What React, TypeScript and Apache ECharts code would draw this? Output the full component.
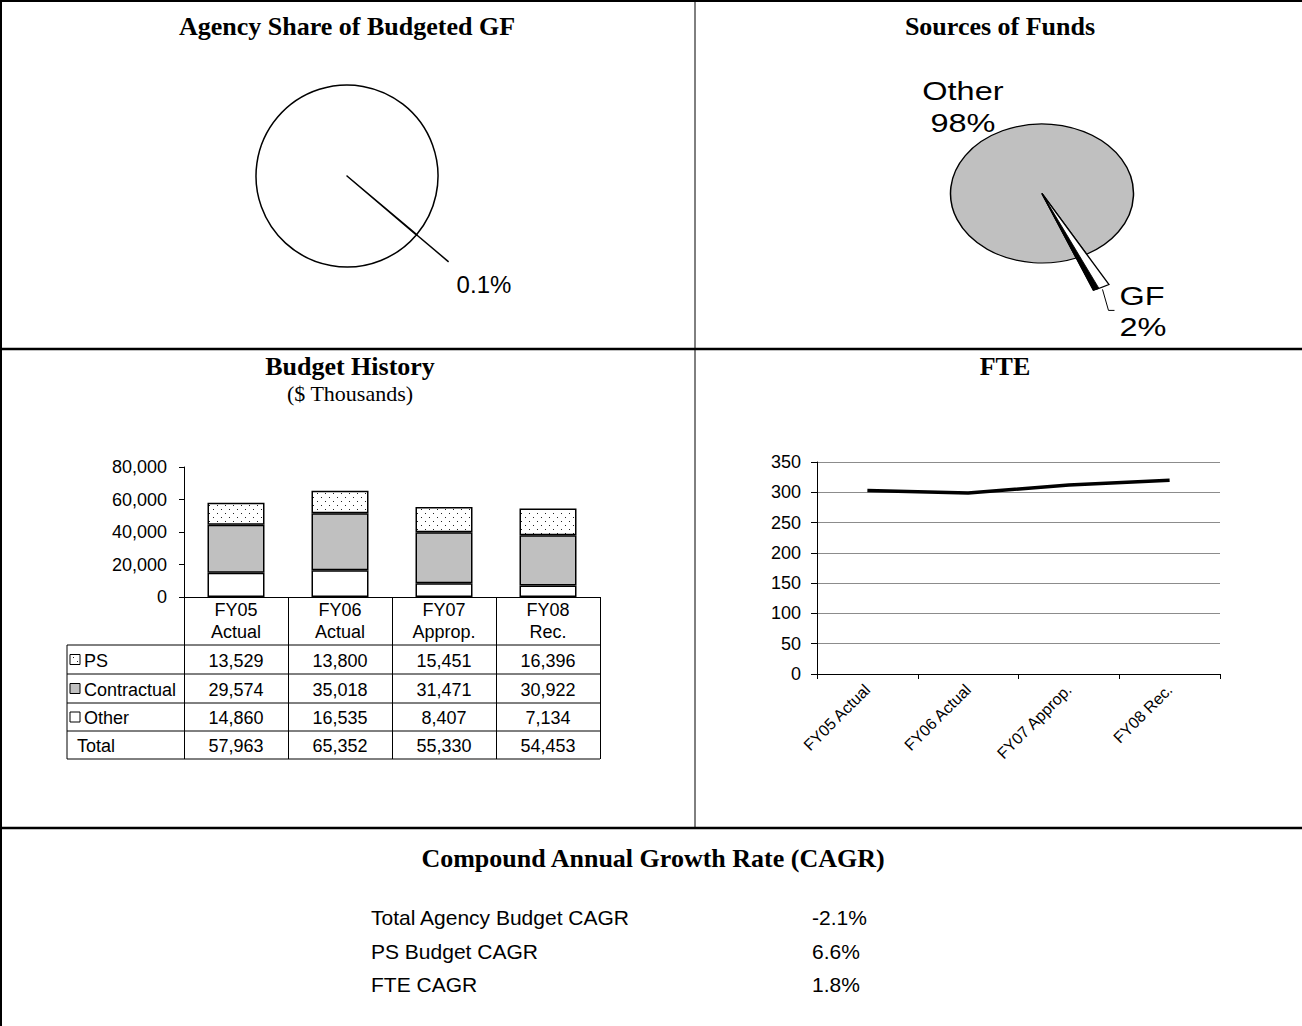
import React, { useEffect, useRef } from "react";
import * as echarts from "echarts";

const SERIF = '"Liberation Serif", "Times New Roman", serif';
const SANS = '"Liberation Sans", Arial, sans-serif';

// ---- data ----
const agencyShareNames = ["Agency", "Rest of GF"];
const agencyShareValues = [0.1, 99.9];

const sourcesNames = ["Other", "GF"];
const sourcesValues = [98, 2];

const budgetCategories = ["FY05\nActual", "FY06\nActual", "FY07\nApprop.", "FY08\nRec."];
const budgetRowNames = ["PS", "Contractual", "Other", "Total"];
const psValues = [13529, 13800, 15451, 16396];
const contractualValues = [29574, 35018, 31471, 30922];
const otherValues = [14860, 16535, 8407, 7134];
const totalValues = [57963, 65352, 55330, 54453];
const budgetAxisMax = 80000;
const budgetAxisStep = 20000;

const fteCategories = ["FY05 Actual", "FY06 Actual", "FY07 Approp.", "FY08 Rec."];
const fteValues = [303, 299, 312, 320];
const fteAxisMax = 350;
const fteAxisStep = 50;

const cagrLabels = ["Total Agency Budget CAGR", "PS Budget CAGR", "FTE CAGR"];
const cagrValues = ["-2.1%", "6.6%", "1.8%"];

const fmt = (v: number) => v.toLocaleString("en-US");

function makeDots(): string {
  const c = document.createElement("canvas");
  c.width = 8;
  c.height = 8;
  const ctx = c.getContext("2d")!;
  ctx.fillStyle = "#fff";
  ctx.fillRect(0, 0, 8, 8);
  ctx.fillStyle = "#222";
  ctx.fillRect(1, 1, 1, 1);
  ctx.fillRect(5, 5, 1, 1);
  return c.toDataURL();
}

export default function App() {
  const ref = useRef<HTMLDivElement>(null);

  useEffect(() => {
    const el = ref.current!;
    const chart = echarts.init(el, null, { renderer: "svg" });
    const dotsUrl = makeDots();
    const psFill: any = { image: dotsUrl, repeat: "repeat", imageWidth: 8, imageHeight: 8 };

    // layout constants
    const bg = { left: 184, top: 467, width: 416, height: 130 };
    const fg = { left: 817, top: 462, width: 403, height: 212 };
    const tableLeft = 67;
    const tableBottom = 759;
    const rowLines = [645, 674, 703, 731, 759];
    const rowSeries = [psValues, contractualValues, otherValues, totalValues];

    // pie 2 geometry
    const p2 = { cx: 1042, cy: 193.5, rx: 91.5, ry: 69.5 };
    const p2Start = (68 * Math.PI) / 180;
    const p2Total = sourcesValues.reduce((a, b) => a + b, 0);

    const lineStyleBlack = { color: "#000", width: 1 };

    const graphic: any[] = [];
    const gLine = (x1: number, y1: number, x2: number, y2: number, w = 1, color = "#000") =>
      graphic.push({ type: "line", silent: true, shape: { x1, y1, x2, y2 }, style: { stroke: color, lineWidth: w } });
    const gText = (text: string, x: number, y: number, font: string, align = "center") =>
      graphic.push({
        type: "text",
        silent: true,
        x,
        y,
        style: { text, font, fill: "#000", textAlign: align, textVerticalAlign: "middle" },
      });

    // frame
    gLine(0, 1, 1302, 1, 2);
    gLine(1, 0, 1, 1026, 2);
    gLine(695, 0, 695, 828, 1);
    gLine(0, 349, 1302, 349, 2.5);
    gLine(0, 828, 1302, 828, 2.5);

    // titles
    const titleFont = `bold 26px ${SERIF}`;
    gText("Agency Share of Budgeted GF", 347, 26, titleFont);
    gText("Sources of Funds", 1000, 26, titleFont);
    gText("Budget History", 350, 366, titleFont);
    gText("($ Thousands)", 350, 393, `22px ${SERIF}`);
    gText("FTE", 1005, 366, titleFont);
    gText("Compound Annual Growth Rate (CAGR)", 653, 858, titleFont);

    // table lines
    rowLines.forEach((y) => gLine(tableLeft, y, bg.left + bg.width, y, 1));
    gLine(tableLeft, rowLines[0], tableLeft, tableBottom, 1);

    // table row labels + legend icons
    const iconFills: any[] = [psFill, "#c0c0c0", "#fff", null];
    budgetRowNames.forEach((name, i) => {
      const cy = (rowLines[i] + rowLines[i + 1]) / 2;
      if (iconFills[i]) {
        graphic.push({
          type: "rect",
          silent: true,
          shape: { x: 70, y: cy - 5, width: 10, height: 10 },
          style: { fill: iconFills[i], stroke: "#000", lineWidth: 1 },
        });
        gText(name, 84, cy + 1, `18px ${SANS}`, "left");
      } else {
        gText(name, 77, cy + 1, `18px ${SANS}`, "left");
      }
    });

    // CAGR rows
    const cagrY = [917, 951, 984];
    cagrLabels.forEach((t, i) => {
      gText(t, 371, cagrY[i], `21px ${SANS}`, "left");
      gText(cagrValues[i], 812, cagrY[i], `21px ${SANS}`, "left");
    });

    const rowAxes = rowSeries.map((vals, i) => ({
      type: "category",
      gridIndex: 0,
      position: "bottom",
      offset: (rowLines[i] + rowLines[i + 1]) / 2 + 1 - (bg.top + bg.height),
      data: vals.map(fmt),
      axisLine: { show: false },
      axisTick: { show: false },
      splitLine: { show: false },
      axisLabel: {
        interval: 0,
        margin: 0,
        verticalAlign: "middle",
        fontFamily: SANS,
        fontSize: 18,
        color: "#000",
      },
    }));

    const option: any = {
      animation: false,
      backgroundColor: "#fff",
      grid: [
        { ...bg, containLabel: false },
        { ...fg, containLabel: false },
      ],
      xAxis: [
        {
          type: "category",
          gridIndex: 0,
          data: budgetCategories,
          axisLine: { lineStyle: lineStyleBlack },
          axisTick: { show: true, length: tableBottom - (bg.top + bg.height), interval: 0, lineStyle: lineStyleBlack },
          axisLabel: {
            interval: 0,
            margin: 2,
            fontFamily: SANS,
            fontSize: 18,
            lineHeight: 22,
            color: "#000",
          },
        },
        ...rowAxes,
        {
          type: "category",
          gridIndex: 1,
          data: fteCategories,
          axisLine: { lineStyle: lineStyleBlack },
          axisTick: { show: true, length: 5, interval: 0, lineStyle: lineStyleBlack },
          axisLabel: {
            interval: 0,
            rotate: 45,
            margin: 13,
            fontFamily: SANS,
            fontSize: 16,
            color: "#000",
          },
        },
      ],
      yAxis: [
        {
          type: "value",
          gridIndex: 0,
          min: 0,
          max: budgetAxisMax,
          interval: budgetAxisStep,
          axisLine: { show: true, lineStyle: lineStyleBlack },
          axisTick: { show: true, length: 5, lineStyle: lineStyleBlack },
          splitLine: { show: false },
          axisLabel: { margin: 17, fontFamily: SANS, fontSize: 18, color: "#000", formatter: (v: number) => fmt(v) },
        },
        {
          type: "value",
          gridIndex: 1,
          min: 0,
          max: fteAxisMax,
          interval: fteAxisStep,
          axisLine: { show: true, lineStyle: lineStyleBlack },
          axisTick: { show: true, length: 6, lineStyle: lineStyleBlack },
          splitLine: { show: true, lineStyle: { color: "#8c8c8c", width: 1 } },
          axisLabel: { margin: 16, fontFamily: SANS, fontSize: 18, color: "#000" },
        },
      ],
      series: [
        {
          type: "pie",
          center: [347, 176],
          radius: 91,
          startAngle: -40,
          clockwise: true,
          silent: true,
          avoidLabelOverlap: false,
          itemStyle: { color: "#fff", borderColor: "#000", borderWidth: 1.5 },
          label: { show: false },
          labelLine: { show: false },
          data: agencyShareValues.map((v, i) => ({
            value: v,
            name: agencyShareNames[i],
            label:
              i === 0
                ? {
                    show: true,
                    position: "outside",
                    formatter: "\n{c}%",
                    fontFamily: SANS,
                    fontSize: 24,
                    lineHeight: 46,
                    color: "#000",
                    distanceToLabelLine: 8,
                  }
                : { show: false },
            labelLine:
              i === 0
                ? { show: true, length: 42, length2: 0, lineStyle: { color: "#000", width: 1.5 } }
                : { show: false },
          })),
        },
        {
          type: "custom",
          coordinateSystem: "none",
          silent: true,
          data: sourcesValues.map((v, i) => ({ name: sourcesNames[i], value: v })),
          renderItem: (params: any, api: any) => {
            const i = params.dataIndex;
            const name = sourcesNames[i];
            const v = api.value(0);
            const before = sourcesValues.slice(0, i).reduce((a, b) => a + b, 0);
            const a0 = p2Start + (before / p2Total) * Math.PI * 2;
            const a1 = a0 + (v / p2Total) * Math.PI * 2;
            const mid = (a0 + a1) / 2;
            const small = v / p2Total < 0.05;
            const rScale = small ? 1.5 : 1;
            const children: any[] = [];
            const pieces: any[] = [
              {
                type: "sector",
                shape: { cx: 0, cy: 0, r0: 0, r: p2.rx * rScale, startAngle: a0, endAngle: a1, clockwise: true },
                style: { fill: small ? "#fff" : "#c0c0c0", stroke: "#000", lineWidth: 1.5, strokeNoScale: true },
              },
            ];
            if (small) {
              pieces.push({
                type: "sector",
                shape: {
                  cx: 0,
                  cy: 0,
                  r0: 0,
                  r: p2.rx * rScale,
                  startAngle: a1 - (a1 - a0) * 0.35,
                  endAngle: a1,
                  clockwise: true,
                },
                style: { fill: "#000", stroke: "#000", lineWidth: 1, strokeNoScale: true },
              });
            }
            children.push({
              type: "group",
              x: p2.cx,
              y: p2.cy,
              scaleY: p2.ry / p2.rx,
              children: pieces,
            });
            const labelText = `${name}\n${v}%`;
            const labelFont = `26px ${SANS}`;
            if (small) {
              const k = rScale + 0.03;
              const x0 = p2.cx + Math.cos(mid) * p2.rx * k;
              const y0 = p2.cy + Math.sin(mid) * p2.ry * k;
              const pts = [
                [x0, y0],
                [x0 + 6, y0 + 21],
                [x0 + 12, y0 + 21],
              ];
              children.push({
                type: "polyline",
                shape: { points: pts },
                style: { stroke: "#000", lineWidth: 1, fill: null },
              });
              children.push({
                type: "text",
                x: pts[2][0] + 5,
                y: pts[2][1] + 1,
                scaleX: 1.25,
                style: {
                  text: labelText,
                  font: labelFont,
                  fill: "#000",
                  textAlign: "left",
                  textVerticalAlign: "middle",
                  lineHeight: 31,
                },
              });
            } else {
              const x0 = p2.cx + Math.cos(mid) * p2.rx * 2.0;
              const y0 = p2.cy + Math.sin(mid) * p2.ry * 1.38;
              children.push({
                type: "text",
                x: x0,
                y: y0,
                scaleX: 1.25,
                style: {
                  text: labelText,
                  font: labelFont,
                  fill: "#000",
                  textAlign: "center",
                  textVerticalAlign: "middle",
                  lineHeight: 32,
                },
              });
            }
            return { type: "group", children };
          },
        },
        {
          type: "bar",
          name: "Other",
          xAxisIndex: 0,
          yAxisIndex: 0,
          stack: "budget",
          barWidth: 57,
          silent: true,
          itemStyle: { color: "#fff", borderColor: "#000", borderWidth: 1.5 },
          data: otherValues,
        },
        {
          type: "bar",
          name: "Contractual",
          xAxisIndex: 0,
          yAxisIndex: 0,
          stack: "budget",
          barWidth: 57,
          silent: true,
          itemStyle: { color: "#c0c0c0", borderColor: "#000", borderWidth: 1.5 },
          data: contractualValues,
        },
        {
          type: "bar",
          name: "PS",
          xAxisIndex: 0,
          yAxisIndex: 0,
          stack: "budget",
          barWidth: 57,
          silent: true,
          itemStyle: { color: psFill, borderColor: "#000", borderWidth: 1.5 },
          data: psValues,
        },
        {
          type: "line",
          name: "FTE",
          xAxisIndex: rowAxes.length + 1,
          yAxisIndex: 1,
          silent: true,
          symbol: "none",
          lineStyle: { color: "#000", width: 3.5 },
          data: fteValues,
        },
      ],
      graphic,
    };

    chart.setOption(option);
    return () => chart.dispose();
  }, []);

  return (
    <div
      ref={ref}
      style={{ position: "absolute", left: 0, top: 0, width: 1302, height: 1026, background: "#fff" }}
    />
  );
}
